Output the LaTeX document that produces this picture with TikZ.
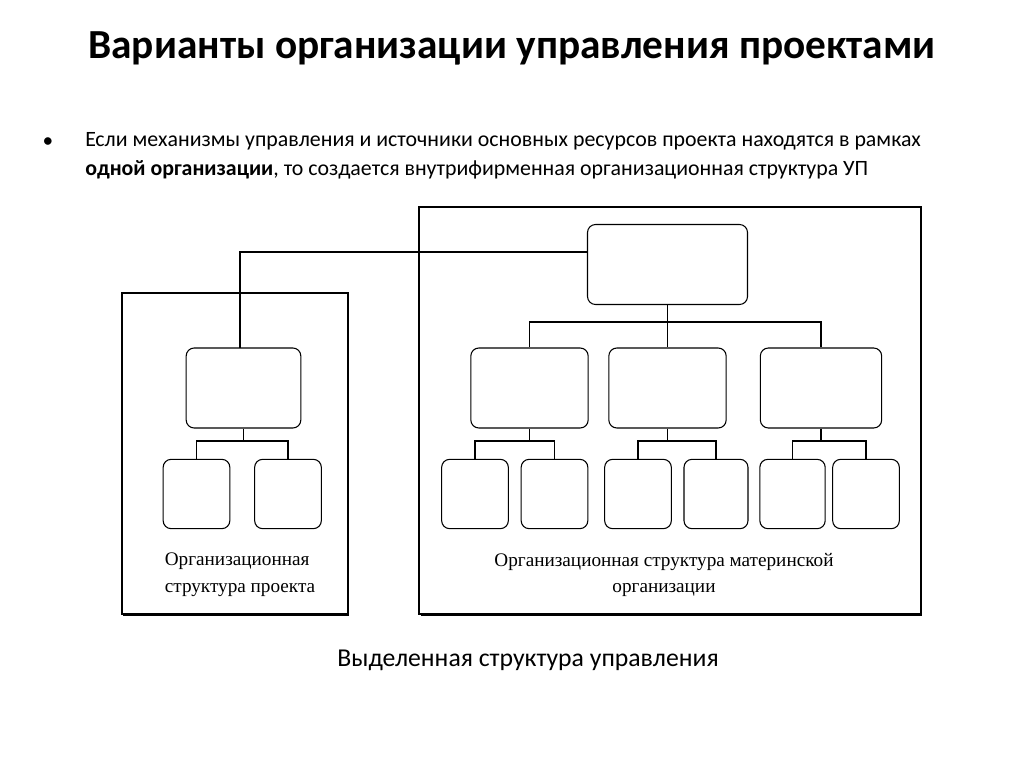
\documentclass[tikz,border=0pt]{standalone}
\usepackage{fontspec}
\setmainfont{Carlito}
\newfontfamily\ser{Liberation Serif}
\begin{document}
\begin{tikzpicture}[x=0.75pt,y=-0.75pt,
  bx/.style={draw,rounded corners=6pt,line width=0.8pt},
  fr/.style={draw,line width=0.9pt},
  ln/.style={line width=0.8pt}]
\useasboundingbox (0,0) rectangle (1024,767);
\node[font=\bfseries\fontsize{31}{36}\selectfont] (title) at (512,48) {Варианты организации управления проектами};
\node[font=\fontsize{16}{20}\selectfont] (bul) at (48,143) {•};
\node[font=\fontsize{16.4}{22}\selectfont,anchor=north west,align=left,inner sep=0] (txt) at (85,132)
 {Если механизмы управления и источники основных ресурсов проекта находятся в рамках\\
 \textbf{одной организации}, то создается внутрифирменная организационная структура УП};
% frames
\draw[fr] (419,207) rectangle (921,614);
\draw[line width=2pt] (921,209) -- (921,615) -- (421,615);
\draw[fr] (122,293) rectangle (348,614);
\draw[line width=1.6pt] (348,294) -- (348,615) -- (123,615);
% boxes
\node[bx,minimum width=120pt,minimum height=60pt] (top) at (667.5,264.5) {};
\node[bx,minimum width=86pt,minimum height=60pt] (L) at (243.5,388) {};
\node[bx,minimum width=50pt,minimum height=52pt] (L1) at (196.5,494) {};
\node[bx,minimum width=50pt,minimum height=52pt] (L2) at (288,494) {};
\node[bx,minimum width=88pt,minimum height=60pt] (M1) at (529.5,388) {};
\node[bx,minimum width=88pt,minimum height=60pt] (M2) at (667.5,388) {};
\node[bx,minimum width=91pt,minimum height=60pt] (M3) at (821,388) {};
\node[bx,minimum width=50pt,minimum height=52pt] (C1) at (475,494) {};
\node[bx,minimum width=50pt,minimum height=52pt] (C2) at (554.5,494) {};
\node[bx,minimum width=50pt,minimum height=52pt] (C3) at (638,494) {};
\node[bx,minimum width=48pt,minimum height=52pt] (C4) at (716,494) {};
\node[bx,minimum width=49pt,minimum height=52pt] (C5) at (792.5,494) {};
\node[bx,minimum width=50pt,minimum height=52pt] (C6) at (866,494) {};
% connectors
\draw[ln] (top.west|-0,252) -- (240,252) -- (240,348);
\draw[ln] (top.south) -- (667.5,322) -| (M1.north);
\draw[ln] (667.5,322) -| (M3.north);
\draw[ln] (top.south) -- (M2.north);
\draw[ln] (L.south) -- (243.5,441) -| (L1.north); \draw[ln] (243.5,441) -| (L2.north);
\draw[ln] (M1.south) -- (529.5,441) -| (C1.north); \draw[ln] (529.5,441) -| (C2.north);
\draw[ln] (M2.south) -- (667.5,441) -| (C3.north); \draw[ln] (667.5,441) -| (C4.north);
\draw[ln] (M3.south) -- (821,441) -| (C5.north); \draw[ln] (821,441) -| (C6.north);
% labels
\node[font=\ser\fontsize{14.4}{20}\selectfont,align=left] (lab1) at (240,575) {Организационная\\структура проекта};
\node[font=\ser\fontsize{14.4}{20}\selectfont,align=center] (lab2) at (664,575) {Организационная структура материнской\\организации};
\node[font=\fontsize{19.3}{22}\selectfont] (cap) at (528,660) {Выделенная структура управления};
\end{tikzpicture}
\end{document}
